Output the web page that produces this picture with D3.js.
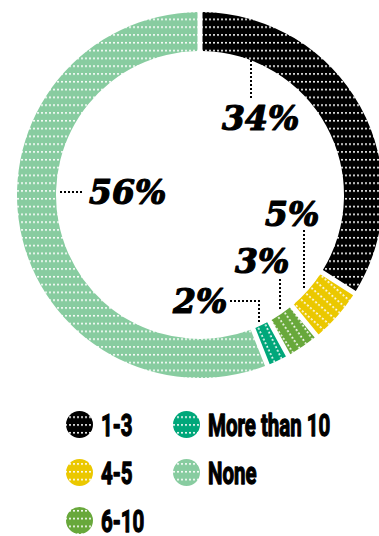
<!DOCTYPE html>
<html>
<head>
<meta charset="utf-8">
<script src="https://cdn.jsdelivr.net/npm/d3@7"></script>
<style>
  html, body { margin: 0; padding: 0; background: #fff; }
  svg { display: block; }
</style>
</head>
<body>
<svg id="chart" width="379" height="536"></svg>
<script>
// Number of items (share of respondents, %)
const categories = ["1-3", "4-5", "6-10", "More than 10", "None"];
const shares = [34, 5, 3, 2, 56];
const valueLabels = ["34%", "5%", "3%", "2%", "56%"];
const colors = ["#000000", "#ebc800", "#68a83b", "#00a77a", "#88cca0"];

const svg = d3.select("#chart");
const cx = 200, cy = 195;
const outerR = 183, innerR = 144;

// ---- dotted fill patterns ----
const defs = svg.append("defs");
const pie = d3.pie().sort(null).value(d => d)(shares);

function makePattern(id, color, angle) {
  const p = defs.append("pattern")
    .attr("id", id)
    .attr("patternUnits", "userSpaceOnUse")
    .attr("width", 4)
    .attr("height", 7.8);
  if (angle) p.attr("patternTransform", `rotate(${angle})`);
  p.append("rect").attr("width", 4).attr("height", 7.8).attr("fill", color);
  p.append("rect").attr("x", 1).attr("y", 3).attr("width", 2).attr("height", 1.5).attr("fill", "#fff");
}

pie.forEach((s, i) => {
  const midDeg = (s.startAngle + s.endAngle) / 2 * 180 / Math.PI;
  // small slices carry their dot rows along the radial direction
  const rot = shares[i] < 10 ? midDeg - 90 : 0;
  makePattern("fill" + i, colors[i], rot);
  makePattern("leg" + i, colors[i], 0);
});

// ---- ring ----
const arc = d3.arc()
  .innerRadius(innerR)
  .outerRadius(outerR)
  .padRadius(outerR)
  .padAngle(5 / outerR);

const ring = svg.append("g").attr("transform", `translate(${cx},${cy})`);
ring.selectAll("path.slice")
  .data(pie)
  .enter().append("path")
  .attr("class", "slice")
  .attr("d", arc)
  .attr("fill", (d, i) => `url(#fill${i})`);

// ---- value labels with dotted leaders (offsets from the ring centre) ----
const labelLayout = [
  { tx: 22, ty: -65, leader: [[51, -135], [51, -95]] },
  { tx: 65, ty: 31, leader: [[104, 35], [104, 93]] },
  { tx: 35, ty: 78, leader: [[80, 84], [80, 116]] },
  { tx: -27, ty: 118, leader: [[30, 106], [59, 106], [59, 128]] },
  { tx: -111, ty: 9, leader: [[-140, -3], [-118, -3]] }
];

const labels = ring.append("g");
labelLayout.forEach((L, i) => {
  labels.append("path")
    .attr("d", d3.line()(L.leader))
    .attr("fill", "none")
    .attr("stroke", "#000")
    .attr("stroke-width", 2)
    .attr("stroke-dasharray", "2,2");
  labels.append("text")
    .attr("x", L.tx)
    .attr("y", L.ty)
    .attr("font-family", "'DejaVu Serif', serif")
    .attr("font-weight", 700)
    .attr("font-style", "italic")
    .attr("font-size", 33)
    .attr("fill", "#000")
    .attr("stroke", "#000")
    .attr("stroke-width", 1.2)
    .attr("stroke-linejoin", "round")
    .text(valueLabels[i]);
});

// ---- legend ----
const colX = [79.5, 186.5];
const rowY = d3.scaleLinear().domain([0, 1]).range([424.5, 472.5]);
const legend = svg.append("g");
categories.forEach((name, ci) => {
  const col = ci < 3 ? 0 : 1;
  const row = ci < 3 ? ci : ci - 3;
  const x = colX[col], y = rowY(row);
  legend.append("circle")
    .attr("cx", x).attr("cy", y).attr("r", 13.5)
    .attr("fill", `url(#leg${ci})`);
  legend.append("text")
    .attr("transform", `translate(${x + 21.5},${y + 11.5}) scale(0.64,1)`)
    .attr("font-family", "Roboto, sans-serif")
    .attr("font-weight", 700)
    .attr("font-size", 32)
    .attr("fill", "#000")
    .attr("stroke", "#000")
    .attr("stroke-width", 1.3)
    .attr("stroke-linejoin", "round")
    .text(name);
});
</script>
</body>
</html>
